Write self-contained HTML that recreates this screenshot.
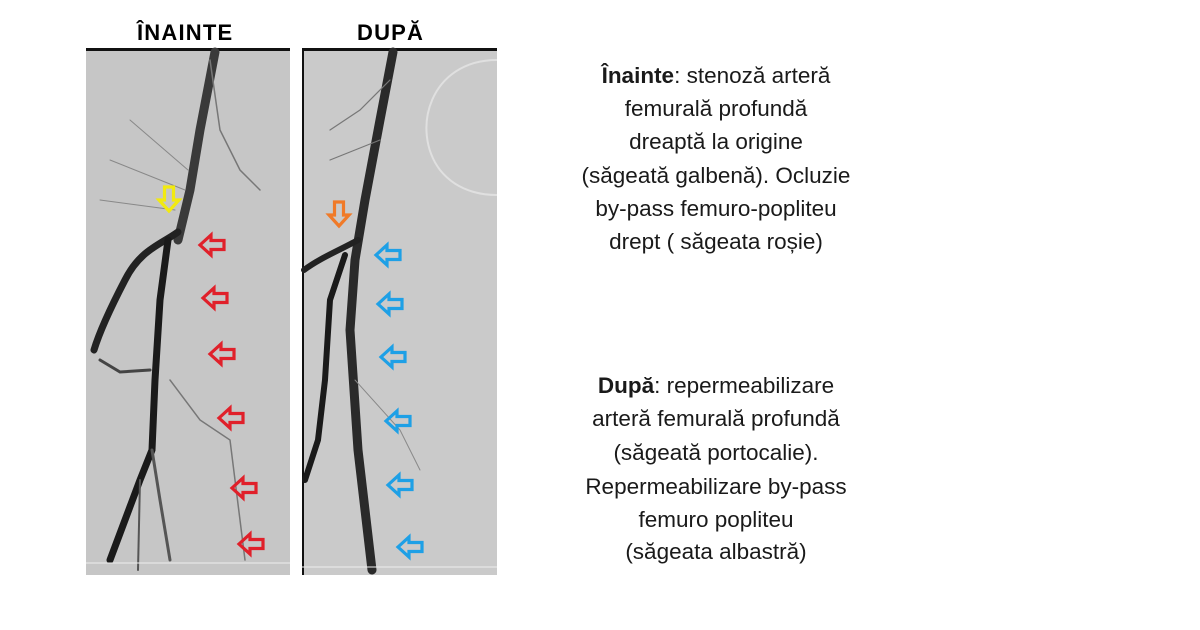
<!DOCTYPE html>
<html><head><meta charset="utf-8"><style>
body{margin:0;width:1200px;height:630px;background:#fff;position:relative;overflow:hidden;font-family:"Liberation Sans",sans-serif;}
.t{position:absolute;left:516px;width:400px;text-align:center;font-size:22.5px;color:#1a1a1a;white-space:nowrap;}
.h{position:absolute;top:20px;font-weight:bold;font-size:22px;letter-spacing:1.2px;color:#000;}
</style></head><body>
<div class="h" style="left:137px">ÎNAINTE</div>
<div class="h" style="left:357px">DUPĂ</div>
<svg width="1200" height="630" style="position:absolute;left:0;top:0">
<defs>
<path id="ar" d="M-12,0 L-1,-10 L-1,-4.5 L12,-4.5 L12,4.5 L-1,4.5 L-1,10 Z" fill="none" stroke-width="3.2" stroke-linejoin="miter"/>
</defs>
<rect x="86" y="49" width="204" height="526" fill="#c6c6c6"/>
<rect x="86" y="48" width="204" height="3" fill="#111"/>
<g fill="none" stroke="#222" stroke-linecap="round">
<path d="M215,52 L200,130 L190,190 L178,240" stroke-width="9" stroke="#3a3a3a"/>
<path d="M178,232 C160,245 140,250 125,280 C112,305 100,330 94,350" stroke-width="7"/>
<path d="M168,240 L160,300 L155,380 L152,450 L140,480 L125,520 L110,560" stroke-width="7" stroke="#1a1a1a"/>
<path d="M152,450 L160,500 L170,560" stroke-width="3" stroke="#555"/>
<path d="M140,480 L138,570" stroke-width="2" stroke="#555"/>
<path d="M150,370 L120,372 L100,360" stroke-width="3" stroke="#444"/>
<path d="M170,380 L200,420 L230,440 L245,560" stroke-width="1.5" stroke="#777"/>
<path d="M210,60 L220,130 L240,170 L260,190" stroke-width="1.5" stroke="#777"/>
<path d="M188,170 L130,120 M185,190 L110,160 M175,210 L100,200" stroke-width="1" stroke="#888"/>
</g>
<rect x="302" y="49" width="195" height="526" fill="#cacaca"/>
<rect x="302" y="48" width="195" height="3" fill="#111"/>
<rect x="302" y="49" width="2" height="526" fill="#111"/>
<path d="M497,60 C430,60 410,130 440,170 C460,195 490,195 497,195" fill="none" stroke="#e0e0e0" stroke-width="2"/>
<g fill="none" stroke-linecap="round">
<path d="M393,52 L380,120 L365,200 L355,260 L350,330 L358,450 L372,570" stroke-width="9" stroke="#2a2a2a"/>
<path d="M358,240 C340,250 320,258 304,270" stroke-width="6" stroke="#222"/>
<path d="M345,255 L330,300 L325,380 L318,440 L305,480" stroke-width="6" stroke="#1a1a1a"/>
<path d="M390,80 L360,110 L330,130 M380,140 L330,160" stroke-width="1.2" stroke="#777"/>
<path d="M355,380 L400,430 L420,470" stroke-width="1" stroke="#888"/>
</g>
<g stroke="#eee" stroke-width="1">
<line x1="86" y1="563" x2="290" y2="563"/><line x1="302" y1="567" x2="497" y2="567"/>
</g>
<g stroke="#e0202a">
<use href="#ar" x="212" y="245"/><use href="#ar" x="215" y="298"/><use href="#ar" x="222" y="354"/>
<use href="#ar" x="231" y="418"/><use href="#ar" x="244" y="488"/><use href="#ar" x="251" y="544"/>
</g>
<g stroke="#1ea0e6">
<use href="#ar" x="388" y="255"/><use href="#ar" x="390" y="304"/><use href="#ar" x="393" y="357"/>
<use href="#ar" x="398" y="421"/><use href="#ar" x="400" y="485"/><use href="#ar" x="410" y="547"/>
</g>
<use href="#ar" stroke="#f2ea10" transform="translate(169,199) rotate(-90)"/>
<use href="#ar" stroke="#f07a28" transform="translate(339,214) rotate(-90)"/>
</svg>
<div class="t" style="top:63px"><b>Înainte</b>: stenoză arteră</div>
<div class="t" style="top:96px">femurală profundă</div>
<div class="t" style="top:129px">dreaptă la origine</div>
<div class="t" style="top:163px">(săgeată galbenă). Ocluzie</div>
<div class="t" style="top:196px">by-pass femuro-popliteu</div>
<div class="t" style="top:229px">drept ( săgeata roșie)</div>
<div class="t" style="top:373px"><b>După</b>: repermeabilizare</div>
<div class="t" style="top:406px">arteră femurală profundă</div>
<div class="t" style="top:440px">(săgeată portocalie).</div>
<div class="t" style="top:474px">Repermeabilizare by-pass</div>
<div class="t" style="top:507px">femuro popliteu</div>
<div class="t" style="top:539px">(săgeata albastră)</div>
</body></html>
